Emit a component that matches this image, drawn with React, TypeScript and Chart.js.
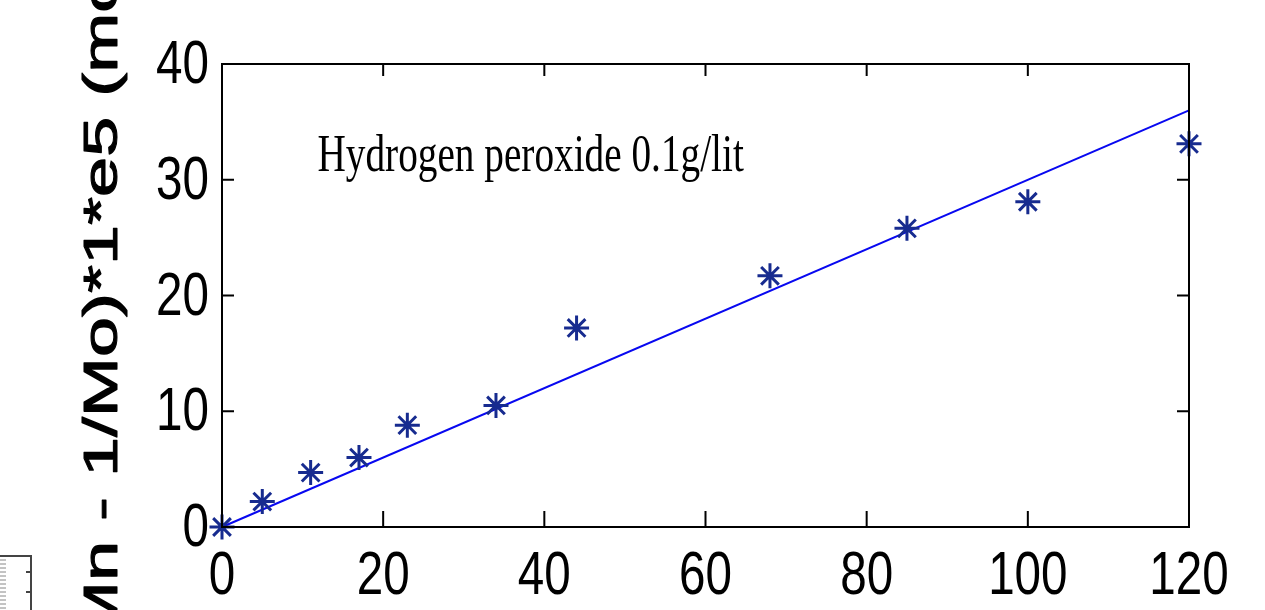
import React, { useEffect, useRef } from "react";
import { Chart, registerables } from "chart.js";

Chart.register(...registerables);

const timeMin: number[] = [0, 5, 11, 17, 23, 34, 44, 68, 85, 100, 120];
const invMnDiff: number[] = [0, 2.2, 4.7, 6.0, 8.8, 10.5, 17.2, 21.7, 25.8, 28.1, 33.1];
const fitX: number[] = [0, 120];
const fitY: number[] = [0, 36];
const xTicks: number[] = [0, 20, 40, 60, 80, 100, 120];
const yTicks: number[] = [0, 10, 20, 30, 40];
const yTitle = "(1/Mn - 1/Mo)*1*e5 (mol/g)";
const annotation = "Hydrogen peroxide 0.1g/lit";

const SQUEEZE = 0.78;
const TICK_FONT = "61px 'Liberation Sans', Arial, sans-serif";

const framePlugin = {
  id: "matlabFrame",
  afterDraw(chart: any) {
    const { ctx, chartArea } = chart;
    const xs = chart.scales.x;
    const ys = chart.scales.y;
    const { left, right, top, bottom } = chartArea;
    ctx.save();
    ctx.strokeStyle = "#000";
    ctx.lineWidth = 2;
    ctx.beginPath();
    ctx.rect(left, top, right - left, bottom - top);
    ctx.stroke();
    // inner ticks
    ctx.beginPath();
    xs.ticks.forEach((t: any) => {
      const px = xs.getPixelForValue(t.value);
      ctx.moveTo(px, bottom);
      ctx.lineTo(px, bottom - 16);
      ctx.moveTo(px, top);
      ctx.lineTo(px, top + 12);
    });
    ys.ticks.forEach((t: any) => {
      const py = ys.getPixelForValue(t.value);
      ctx.moveTo(left, py);
      ctx.lineTo(left + 12, py);
      ctx.moveTo(right, py);
      ctx.lineTo(right - 12, py);
    });
    ctx.stroke();

    // tick labels (condensed)
    ctx.fillStyle = "#000";
    ctx.font = TICK_FONT;
    ctx.textBaseline = "alphabetic";
    xs.ticks.forEach((t: any) => {
      const px = xs.getPixelForValue(t.value);
      ctx.save();
      ctx.translate(px, bottom + 67);
      ctx.scale(SQUEEZE, 1);
      ctx.textAlign = "center";
      ctx.fillText(String(t.value), 0, 0);
      ctx.restore();
    });
    ys.ticks.forEach((t: any) => {
      const py = ys.getPixelForValue(t.value);
      ctx.save();
      ctx.translate(left - 13, py + 19);
      ctx.scale(SQUEEZE, 1);
      ctx.textAlign = "right";
      ctx.fillText(String(t.value), 0, 0);
      ctx.restore();
    });

    // annotation text (squeezed serif)
    ctx.save();
    ctx.fillStyle = "#000";
    ctx.font = "52px 'Liberation Serif', 'Times New Roman', serif";
    ctx.textBaseline = "alphabetic";
    ctx.textAlign = "left";
    ctx.translate(xs.getPixelForValue(11.85), ys.getPixelForValue(30.75));
    ctx.scale(0.755, 1);
    ctx.fillText(annotation, 0, 0);
    ctx.restore();

    // rotated y title (partly outside canvas)
    ctx.save();
    ctx.fillStyle = "#000";
    ctx.strokeStyle = "#000";
    ctx.font = "72px 'Liberation Sans', Arial, sans-serif";
    ctx.textBaseline = "alphabetic";
    ctx.textAlign = "left";
    const pre = ctx.measureText("(1/Mn ").width;
    const dash = ctx.measureText("-").width;
    ctx.translate(117, 509);
    ctx.rotate(-Math.PI / 2);
    ctx.scale(1, 0.66);
    ctx.lineWidth = 1.6;
    ctx.lineJoin = "round";
    ctx.fillText(yTitle, -(pre + dash / 2), 0);
    ctx.strokeText(yTitle, -(pre + dash / 2), 0);
    ctx.restore();

    // small remnant glyph bottom-left
    ctx.save();
    ctx.strokeStyle = "#444";
    ctx.lineWidth = 2;
    ctx.beginPath();
    ctx.moveTo(0, 556);
    ctx.lineTo(31, 556);
    ctx.lineTo(31, 610);
    [572, 592].forEach((y) => {
      ctx.moveTo(31, y);
      ctx.lineTo(26, y);
    });
    ctx.stroke();
    ctx.strokeStyle = "#888";
    ctx.lineWidth = 1;
    ctx.beginPath();
    for (let y = 560; y < 610; y += 4) {
      ctx.moveTo(0, y);
      ctx.lineTo(6, y);
    }
    ctx.stroke();
    ctx.restore();

    ctx.restore();
  },
};

export default function App() {
  const ref = useRef<HTMLCanvasElement | null>(null);
  useEffect(() => {
    document.body.style.margin = "0";
    const canvas = ref.current;
    if (!canvas) return;
    const chart = new Chart(canvas, {
      type: "scatter",
      data: {
        datasets: [
          {
            type: "line",
            label: "fit",
            data: fitX.map((x, i) => ({ x, y: fitY[i] })),
            borderColor: "#0808f0",
            borderWidth: 2,
            pointRadius: 0,
            fill: false,
            order: 2,
          } as any,
          {
            label: "data",
            data: timeMin.map((x, i) => ({ x, y: invMnDiff[i] })),
            pointStyle: "star",
            pointRadius: 12.5,
            borderColor: "#172b8f",
            backgroundColor: "#172b8f",
            borderWidth: 3,
            order: 1,
          },
        ],
      },
      options: {
        responsive: false,
        animation: false,
        events: [],
        clip: false as any,
        layout: { padding: { top: 64, right: 76, left: 0, bottom: 0 } },
        plugins: { legend: { display: false }, tooltip: { enabled: false }, title: { display: false } },
        scales: {
          x: {
            type: "linear",
            min: 0,
            max: 120,
            afterBuildTicks: (s: any) => {
              s.ticks = xTicks.map((v) => ({ value: v }));
            },
            afterFit: (s: any) => {
              s.height = 83;
            },
            grid: { display: false, drawTicks: false },
            border: { display: false },
            ticks: { display: false },
          },
          y: {
            type: "linear",
            min: 0,
            max: 40,
            afterBuildTicks: (s: any) => {
              s.ticks = yTicks.map((v) => ({ value: v }));
            },
            afterFit: (s: any) => {
              s.width = 222;
            },
            grid: { display: false, drawTicks: false },
            border: { display: false },
            ticks: { display: false },
          },
        },
      },
      plugins: [framePlugin],
    });
    return () => chart.destroy();
  }, []);
  return <canvas ref={ref} width={1265} height={610} style={{ display: "block" }} />;
}
